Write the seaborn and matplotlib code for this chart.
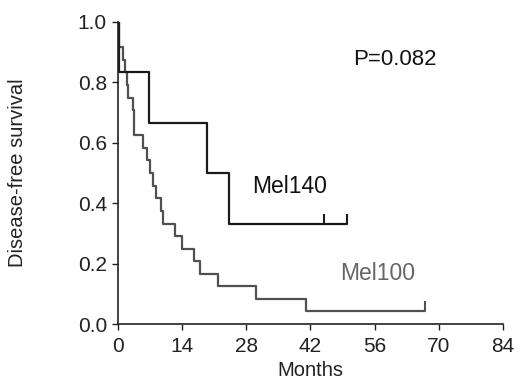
import numpy as np
import pandas as pd
import matplotlib
matplotlib.use("Agg")
import matplotlib.pyplot as plt
import seaborn as sns

# Kaplan-Meier step data
mel140_t = [0, 0.3, 6.8, 19.4, 24.2, 50]
mel140_s = [1.0, 0.833, 0.667, 0.5, 0.333, 0.333]
mel140_cens_t = [45, 50]
mel140_cens_s = [0.333, 0.333]

mel100_t = [0, 0.2, 1.1, 1.5, 2.0, 2.2, 3.3, 3.5, 5.5, 6.3, 7.0, 7.6, 8.3,
            9.4, 9.9, 12.5, 13.9, 16.6, 17.9, 21.8, 30.1, 41.0, 67]
mel100_s = [1.0, 0.917, 0.875, 0.833, 0.792, 0.75, 0.708, 0.625, 0.583,
            0.542, 0.5, 0.458, 0.417, 0.375, 0.333, 0.292, 0.25, 0.208,
            0.167, 0.125, 0.083, 0.042, 0.042]
mel100_cens_t = [67]
mel100_cens_s = [0.042]

x_ticks = [0, 14, 28, 42, 56, 70, 84]
y_ticks = [0.0, 0.2, 0.4, 0.6, 0.8, 1.0]

sns.set_style("ticks")
plt.rcParams['font.family'] = ['Liberation Sans', 'DejaVu Sans']

fig = plt.figure(figsize=(5.2, 3.92), dpi=100)
ax = fig.add_axes([0.227, 0.173, 0.74, 0.771])

c140 = "#1a1a1a"
c100 = "#505050"
txt = "#222222"

df140 = pd.DataFrame({"t": mel140_t, "s": mel140_s})
df100 = pd.DataFrame({"t": mel100_t, "s": mel100_s})
sns.lineplot(data=df100, x="t", y="s", drawstyle="steps-post", color=c100,
             lw=1.6, ax=ax, estimator=None, sort=False)
sns.lineplot(data=df140, x="t", y="s", drawstyle="steps-post", color=c140,
             lw=1.6, ax=ax, estimator=None, sort=False)
ax.plot(mel140_cens_t, mel140_cens_s, ls="none", marker=2, ms=7, mew=1.5, color=c140)
ax.plot(mel100_cens_t, mel100_cens_s, ls="none", marker=2, ms=7, mew=1.5, color=c100)

ax.set_xlim(0, 84)
ax.set_ylim(0, 1.0)
ax.set_xticks(x_ticks)
ax.set_yticks(y_ticks)
ax.set_yticklabels([f"{v:.1f}" for v in y_ticks])
ax.tick_params(axis="both", labelsize=15, length=4, width=1, color=txt,
               labelcolor=txt)
ax.tick_params(axis="x", pad=5)
ax.tick_params(axis="y", pad=4)
for sp in ["left", "bottom"]:
    ax.spines[sp].set_linewidth(1.2)
    ax.spines[sp].set_color(txt)
sns.despine(ax=ax)

ax.set_xlabel("Months", fontsize=14.5, color=txt)
ax.set_ylabel("Disease-free survival", fontsize=14.5, color=txt)
ax.xaxis.set_label_coords(0.5, -0.123)
ax.yaxis.set_label_coords(-0.236, 0.5)

ax.text(29.3, 0.454, "Mel140", fontsize=16.5, color="#111111", va="center")
ax.text(48.5, 0.169, "Mel100", fontsize=16.5, color="#666666", va="center")
ax.text(51.3, 0.877, "P=0.082", fontsize=16, color="#111111", va="center")

fig.savefig("out.png", dpi=100)
